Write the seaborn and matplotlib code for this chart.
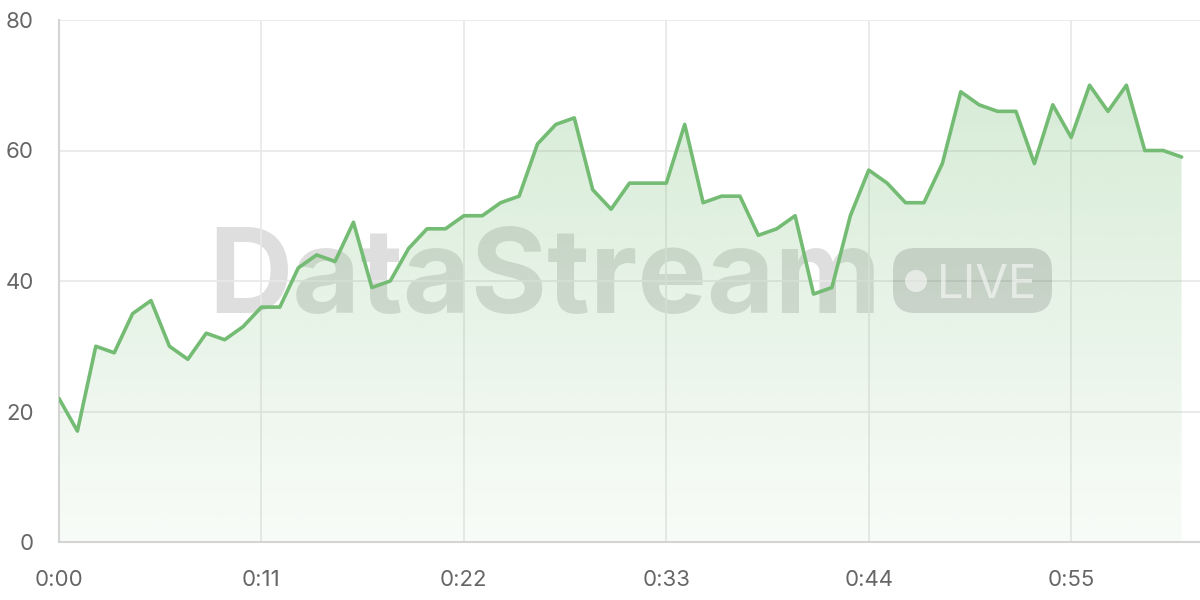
import numpy as np
import pandas as pd
import seaborn as sns
import matplotlib.pyplot as plt
from matplotlib.patches import FancyBboxPatch, Circle
from matplotlib.transforms import IdentityTransform

# values, one per second
seconds = list(range(62))
values = [22, 17, 30, 29, 35, 37, 30, 28, 32, 31, 33, 36, 36, 42, 44, 43,
          49, 39, 40, 45, 48, 48, 50, 50, 52, 53, 61, 64, 65, 54, 51, 55,
          55, 55, 64, 52, 53, 53, 47, 48, 50, 38, 39, 50, 57, 55, 52, 52,
          58, 69, 67, 66, 66, 58, 67, 62, 70, 66, 70, 60, 60, 59]
tick_pos = [0, 11, 22, 33, 44, 55]
tick_labels = ['0:00', '0:11', '0:22', '0:33', '0:44', '0:55']
y_ticks = [0, 20, 40, 60, 80]

df = pd.DataFrame({'t': seconds, 'value': values})

sns.set_style('white')
plt.rcParams['font.family'] = ['Inter', 'DejaVu Sans']

line_color = '#74bb74'
grid_color = '#e8e8e8'

fig = plt.figure(figsize=(12, 6), dpi=100)
ax = fig.add_axes([59 / 1200, 58 / 600, 1141 / 1200, 522 / 600])

# watermark, drawn under the fill
wm_alpha = 0.13
ax.text(208 / 1200, 1 - 313 / 600, 'DataStream', transform=fig.transFigure,
        fontsize=84, fontweight='bold', color='black', alpha=wm_alpha,
        ha='left', va='baseline', zorder=0)
pill = FancyBboxPatch((893, 600 - 313), 159, 65, boxstyle='round,pad=0,rounding_size=22',
                      transform=IdentityTransform(), facecolor='black', edgecolor='none',
                      alpha=wm_alpha, zorder=0)
fig.patches.append(pill)
fig.patches.append(Circle((916, 600 - 281), 11, transform=IdentityTransform(),
                          facecolor='white', edgecolor='none', alpha=0.55, zorder=1))
fig.text(937 / 1200, 1 - 298 / 600, 'LIVE', fontsize=34, color='white', alpha=0.55,
         ha='left', va='baseline', zorder=1)

# gradient fill under the line
poly = ax.fill_between(df['t'], df['value'], 0, color='none', zorder=1)
grad = np.zeros((256, 1, 4))
grad[:, 0, :3] = np.array([116, 187, 116]) / 255
grad[:, 0, 3] = np.linspace(0.32, 0.05, 256)
img = ax.imshow(grad, extent=[0, 62, 0, 80], aspect='auto', origin='upper', zorder=1)
img.set_clip_path(poly.get_paths()[0], transform=ax.transData)

sns.lineplot(data=df, x='t', y='value', ax=ax, color=line_color, linewidth=2.6, zorder=3)

ax.set_xlim(0, 62)
ax.set_ylim(0, 80)
ax.set_xticks(tick_pos)
ax.set_xticklabels(tick_labels)
ax.set_yticks(y_ticks)
ax.set_xlabel('')
ax.set_ylabel('')
ax.grid(True, color=grid_color, linewidth=1.2, zorder=0)
ax.set_axisbelow(True)
ax.tick_params(axis='both', length=11, width=1.2, color=grid_color,
               labelsize=16, labelcolor='#666666')
ax.tick_params(axis='x', pad=9)
ax.tick_params(axis='y', pad=7)
for side in ['top', 'right']:
    ax.spines[side].set_visible(False)
for side in ['left', 'bottom']:
    ax.spines[side].set_color('#d4d4d4')
    ax.spines[side].set_linewidth(1.5)
    ax.spines[side].set_zorder(2)
ax.patch.set_alpha(0)

fig.savefig('out.png', dpi=100)
